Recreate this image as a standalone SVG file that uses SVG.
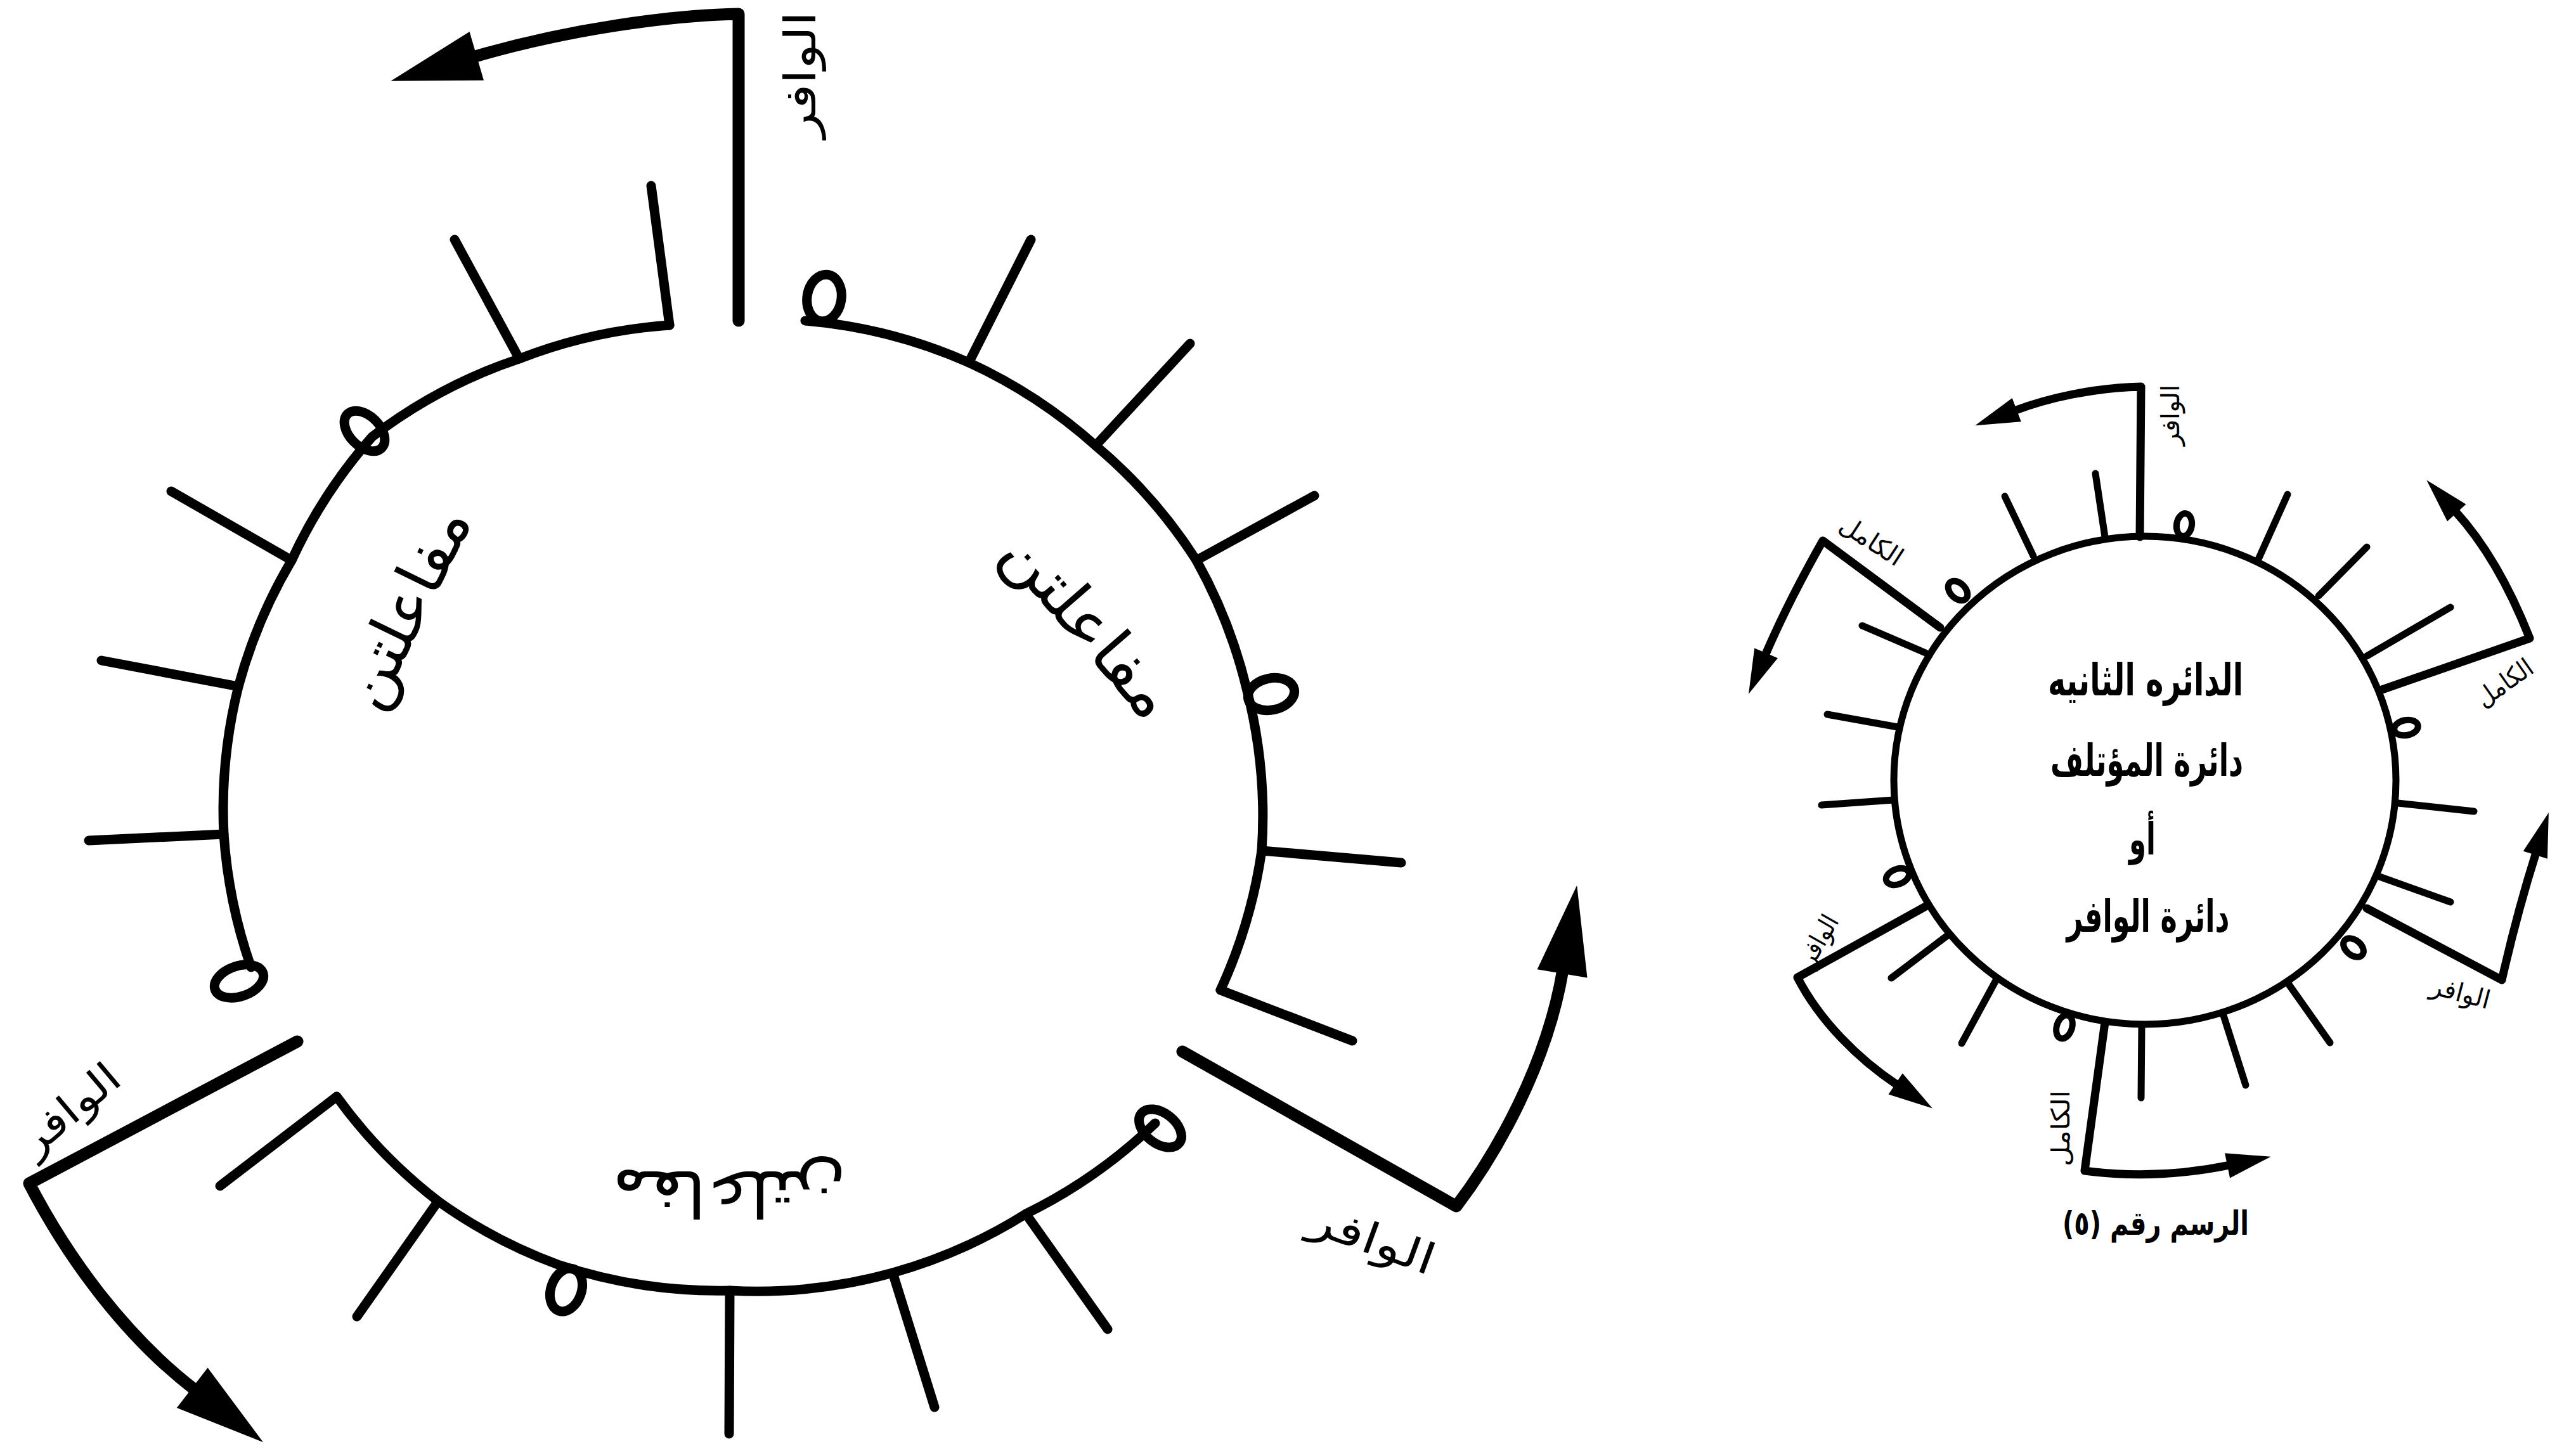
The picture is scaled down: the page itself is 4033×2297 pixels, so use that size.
<svg xmlns="http://www.w3.org/2000/svg" width="4033" height="2297" viewBox="0 0 4033 2297">
<style>
.ln{fill:none;stroke:#000;stroke-linecap:round;stroke-linejoin:round}
.big{stroke-width:15}
.bigw{stroke-width:19}
.sm{stroke-width:11}
.smw{stroke-width:13}
.zero{fill:none;stroke:#000}
.lbl{font-family:"DejaVu Sans",sans-serif;fill:#000;text-anchor:middle;dominant-baseline:central}
.ctr{font-family:"DejaVu Sans",sans-serif;font-weight:bold;fill:#000;text-anchor:middle}
</style>
<defs>
<marker id="ahBig" markerUnits="userSpaceOnUse" orient="auto" refX="0" refY="0" markerWidth="1" markerHeight="1" overflow="visible">
<path d="M-6,-40 L135,0 L-6,40 Z" fill="#000"/>
</marker>
<marker id="ahSm" markerUnits="userSpaceOnUse" orient="auto" refX="0" refY="0" markerWidth="1" markerHeight="1" overflow="visible">
<path d="M-4,-20 L66,0 L-4,20 Z" fill="#000"/>
</marker>
</defs>
<rect width="4033" height="2297" fill="#fff"/>

<g id="big-circle">
<g id="big-arcs">
<path class="ln big" d="M1270,506 A800,800 0 0 1 1528,572 A800,800 0 0 1 1728,703 A800,800 0 0 1 1887,884 A800,800 0 0 1 1966,1086 A800,800 0 0 1 1990,1342 A800,800 0 0 1 1925,1562"/>
<path class="ln big" d="M1822,1772 A800,800 0 0 1 1618,1915 A800,800 0 0 1 1408,2008 A800,800 0 0 1 1151,2036 A800,800 0 0 1 880,1995 A800,800 0 0 1 691,1895 A800,800 0 0 1 531,1730"/>
<path class="ln big" d="M396,1526 A800,800 0 0 1 353,1316 A800,800 0 0 1 376,1083 A800,800 0 0 1 460,884 A800,800 0 0 1 587,689 A800,800 0 0 1 819,566 A800,800 0 0 1 1056,513"/>
</g>
<g id="big-ticks" class="ln big">
<line x1="1056" y1="513" x2="1027" y2="293"/>
<line x1="819" y1="566" x2="717" y2="378"/>
<line x1="460" y1="884" x2="270" y2="775"/>
<line x1="376" y1="1083" x2="160" y2="1042"/>
<line x1="353" y1="1316" x2="140" y2="1326"/>
<line x1="1528" y1="572" x2="1626" y2="378"/>
<line x1="1728" y1="703" x2="1877" y2="542"/>
<line x1="1887" y1="884" x2="2073" y2="782"/>
<line x1="1990" y1="1342" x2="2210" y2="1361"/>
<line x1="1925" y1="1562" x2="2133" y2="1642"/>
<line x1="1618" y1="1915" x2="1747" y2="2097"/>
<line x1="1408" y1="2008" x2="1474" y2="2220"/>
<line x1="1151" y1="2036" x2="1150" y2="2262"/>
<line x1="691" y1="1895" x2="563" y2="2077"/>
<line x1="531" y1="1730" x2="347" y2="1871"/>
</g>
<g id="big-zeros" class="zero" stroke-width="15">
<ellipse cx="0" cy="0" rx="37" ry="27" transform="translate(1300,470) rotate(-81)"/>
<ellipse cx="0" cy="0" rx="38" ry="24" transform="translate(575,680) rotate(-135)"/>
<ellipse cx="0" cy="0" rx="37" ry="25" transform="translate(2005,1095) rotate(-12)"/>
<ellipse cx="0" cy="0" rx="38" ry="24" transform="translate(1830,1780) rotate(38)"/>
<ellipse cx="0" cy="0" rx="35" ry="24" transform="translate(893,2035) rotate(110)"/>
<ellipse cx="0" cy="0" rx="40" ry="24" transform="translate(377,1548) rotate(161)"/>
</g>
<g id="big-labels">
<text class="lbl" font-size="100" textLength="340" lengthAdjust="spacingAndGlyphs" transform="translate(640,958) rotate(-64)">مفاعلتن</text>
<text class="lbl" font-size="100" textLength="355" lengthAdjust="spacingAndGlyphs" transform="translate(1718,985) rotate(49)">مفاعلتن</text>
<text class="lbl" font-size="100" textLength="370" lengthAdjust="spacingAndGlyphs" transform="translate(1150,1882) rotate(180)">مفاعلتن</text>
<text class="lbl" font-size="68" textLength="200" lengthAdjust="spacingAndGlyphs" transform="translate(1262,118) rotate(-90)">الوافر</text>
<text class="lbl" font-size="66" textLength="185" lengthAdjust="spacingAndGlyphs" transform="translate(110,1750) rotate(-40)">الوافر</text>
<text class="lbl" font-size="68" textLength="205" lengthAdjust="spacingAndGlyphs" transform="translate(2165,1955) rotate(20)">الوافر</text>
</g>
</g>

<g id="small-circle">
<ellipse class="ln sm" cx="3383" cy="1231" rx="396" ry="385"/>
<g id="small-ticks" class="ln sm">
<line x1="3563" y1="880" x2="3608" y2="780"/>
<line x1="3657" y1="940" x2="3733" y2="863"/>
<line x1="3733" y1="1035" x2="3865" y2="958"/>
<line x1="3782" y1="1267" x2="3902" y2="1280"/>
<line x1="3753" y1="1383" x2="3865" y2="1423"/>
<line x1="3610" y1="1553" x2="3675" y2="1645"/>
<line x1="3507" y1="1602" x2="3542" y2="1712"/>
<line x1="3378" y1="1617" x2="3377" y2="1732"/>
<line x1="3150" y1="1543" x2="3094" y2="1646"/>
<line x1="3070" y1="1477" x2="2983" y2="1543"/>
<line x1="2987" y1="1262" x2="2873" y2="1270"/>
<line x1="2993" y1="1147" x2="2882" y2="1127"/>
<line x1="3037" y1="1030" x2="2937" y2="987"/>
<line x1="3207" y1="877" x2="3162" y2="783"/>
<line x1="3320" y1="847" x2="3305" y2="747"/>
</g>
<g id="small-zeros" class="zero" stroke-width="10">
<ellipse cx="0" cy="0" rx="18" ry="12" transform="translate(3445,828) rotate(-81)"/>
<ellipse cx="0" cy="0" rx="18" ry="12" transform="translate(3088,932) rotate(-135)"/>
<ellipse cx="0" cy="0" rx="19" ry="12" transform="translate(3795,1148) rotate(-11)"/>
<ellipse cx="0" cy="0" rx="18" ry="12" transform="translate(3712,1495) rotate(39)"/>
<ellipse cx="0" cy="0" rx="19" ry="12" transform="translate(3256,1620) rotate(108)"/>
<ellipse cx="0" cy="0" rx="19" ry="12" transform="translate(2993,1383) rotate(159)"/>
</g>
<g id="small-text">
<text class="ctr" x="3384" y="1097" font-size="70" textLength="308" lengthAdjust="spacingAndGlyphs">الدائره الثانيه</text>
<text class="ctr" x="3386" y="1224" font-size="70" textLength="304" lengthAdjust="spacingAndGlyphs">دائرة المؤتلف</text>
<text class="ctr" x="3379" y="1348" font-size="70" textLength="42" lengthAdjust="spacingAndGlyphs">أو</text>
<text class="ctr" x="3388" y="1470" font-size="70" textLength="257" lengthAdjust="spacingAndGlyphs">دائرة الوافر</text>
<text class="ctr" x="3400" y="1948" font-size="52" textLength="294" lengthAdjust="spacingAndGlyphs">الرسم رقم (٥)</text>
</g>
<g id="small-labels">
<text class="lbl" font-size="40" textLength="96" lengthAdjust="spacingAndGlyphs" transform="translate(3423,655) rotate(-90)">الوافر</text>
<text class="lbl" font-size="40" textLength="110" lengthAdjust="spacingAndGlyphs" transform="translate(2952,853) rotate(33)">الكامل</text>
<text class="lbl" font-size="40" textLength="100" lengthAdjust="spacingAndGlyphs" transform="translate(3950,1077) rotate(-35)">الكامل</text>
<text class="lbl" font-size="40" textLength="85" lengthAdjust="spacingAndGlyphs" transform="translate(2868,1483) rotate(-60)">الوافر</text>
<text class="lbl" font-size="40" textLength="95" lengthAdjust="spacingAndGlyphs" transform="translate(3881,1566) rotate(15)">الوافر</text>
<text class="lbl" font-size="40" textLength="120" lengthAdjust="spacingAndGlyphs" transform="translate(3250,1780) rotate(-90)">الكامل</text>
</g>
</g>

<g id="connectors">
<path class="ln bigw" d="M1165,506 L1165,22 C1060,24 900,45 746,90" marker-end="url(#ahBig)"/>
<path class="ln bigw" d="M1865,1659 L2297,1903 C2360,1820 2440,1680 2465,1530" marker-end="url(#ahBig)"/>
<path class="ln bigw" d="M469,1643 L46,1867 C110,1990 200,2110 308,2193" marker-end="url(#ahBig)"/>
<path class="ln smw" d="M3375,847 L3377,610 C3300,612 3230,628 3177,648" marker-end="url(#ahSm)"/>
<path class="ln smw" d="M3060,990 L2875,853 Q2820,950 2784,1034" marker-end="url(#ahSm)"/>
<path class="ln smw" d="M3757,1088 L3990,1007 Q3940,880 3872,806" marker-end="url(#ahSm)"/>
<path class="ln smw" d="M3733,1433 L3946,1546 Q3970,1440 4000,1345" marker-end="url(#ahSm)"/>
<path class="ln smw" d="M3037,1430 L2835,1542 C2870,1610 2930,1670 2993,1712" marker-end="url(#ahSm)"/>
<path class="ln smw" d="M3320,1613 L3288,1847 Q3400,1862 3517,1838" marker-end="url(#ahSm)"/>
</g>
</svg>
